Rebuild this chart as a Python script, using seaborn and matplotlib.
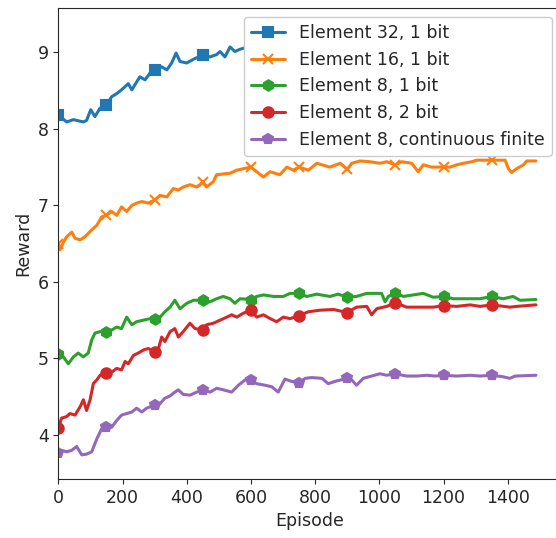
"""
Reward curves for different element / bit configurations.
"""

import matplotlib
matplotlib.use("Agg")
import matplotlib.pyplot as plt
import seaborn as sns

# Element 32, 1 bit
e32_episode = [0, 26, 47, 78, 88, 101, 114, 130, 150, 166, 182, 197, 218, 229,
               254, 270, 286, 300, 322, 338, 353, 367, 379, 400, 426, 450, 473,
               493, 504, 519, 535, 550, 566, 600, 640, 680, 720, 750, 800, 850,
               900, 950, 1000, 1050, 1100, 1150, 1200, 1250, 1300, 1350, 1400,
               1450, 1488]
e32_reward = [8.18, 8.09, 8.12, 8.09, 8.11, 8.25, 8.16, 8.27, 8.31, 8.42, 8.46,
              8.51, 8.59, 8.51, 8.68, 8.64, 8.73, 8.77, 8.81, 8.77, 8.86, 8.99,
              8.88, 8.86, 8.92, 8.96, 8.94, 8.97, 9.01, 8.94, 9.07, 9.01, 9.04,
              9.08, 9.05, 9.10, 9.12, 9.15, 9.13, 9.18, 9.20, 9.18, 9.22, 9.24,
              9.22, 9.25, 9.27, 9.25, 9.28, 9.30, 9.27, 9.29, 9.28]

# Element 16, 1 bit
e16_episode = [0, 5, 16, 26, 42, 52, 68, 83, 104, 120, 135, 150, 166, 182, 197,
               213, 229, 244, 260, 280, 300, 317, 338, 358, 374, 389, 410, 431,
               450, 462, 483, 493, 535, 556, 600, 618, 639, 660, 690, 712, 732,
               750, 779, 805, 846, 878, 900, 914, 940, 971, 1002, 1023, 1050,
               1070, 1101, 1121, 1137, 1163, 1200, 1220, 1241, 1262, 1288, 1303,
               1350, 1392, 1402, 1412, 1428, 1449, 1459, 1488]
e16_reward = [6.50, 6.42, 6.52, 6.59, 6.65, 6.57, 6.55, 6.59, 6.68, 6.74, 6.85,
              6.87, 6.92, 6.87, 6.98, 6.92, 7.00, 7.03, 7.05, 7.03, 7.07, 7.13,
              7.11, 7.22, 7.20, 7.24, 7.27, 7.24, 7.30, 7.24, 7.31, 7.40, 7.42,
              7.46, 7.50, 7.44, 7.37, 7.44, 7.40, 7.50, 7.46, 7.50, 7.46, 7.55,
              7.50, 7.55, 7.47, 7.55, 7.58, 7.57, 7.55, 7.57, 7.53, 7.57, 7.55,
              7.44, 7.53, 7.50, 7.50, 7.50, 7.53, 7.55, 7.57, 7.59, 7.59, 7.59,
              7.48, 7.43, 7.48, 7.53, 7.58, 7.58]

# Element 8, 1 bit
e8b1_episode = [0, 16, 31, 47, 62, 78, 93, 104, 114, 130, 150, 166, 182, 197,
                213, 229, 244, 265, 286, 300, 317, 332, 348, 363, 379, 400, 421,
                450, 473, 493, 514, 535, 550, 566, 600, 618, 639, 670, 701, 722,
                750, 774, 805, 846, 872, 900, 929, 961, 992, 1007, 1018, 1028,
                1050, 1075, 1106, 1137, 1168, 1200, 1231, 1272, 1314, 1350,
                1386, 1417, 1438, 1488]
e8b1_reward = [5.06, 5.02, 4.93, 5.02, 5.07, 5.02, 5.07, 5.24, 5.33, 5.35, 5.35,
               5.37, 5.41, 5.39, 5.54, 5.44, 5.48, 5.50, 5.52, 5.52, 5.54, 5.61,
               5.67, 5.76, 5.65, 5.72, 5.76, 5.76, 5.74, 5.78, 5.81, 5.78, 5.72,
               5.78, 5.77, 5.81, 5.83, 5.81, 5.81, 5.85, 5.85, 5.81, 5.84, 5.81,
               5.84, 5.80, 5.81, 5.85, 5.85, 5.85, 5.74, 5.81, 5.86, 5.81, 5.83,
               5.85, 5.80, 5.81, 5.78, 5.78, 5.78, 5.81, 5.78, 5.81, 5.76, 5.77]

# Element 8, 2 bit
e8b2_episode = [0, 10, 26, 36, 52, 68, 78, 88, 99, 109, 120, 130, 150, 166, 182,
                197, 208, 218, 234, 249, 265, 280, 300, 312, 322, 332, 348, 363,
                374, 389, 410, 426, 450, 462, 483, 504, 525, 540, 556, 576, 600,
                618, 639, 660, 680, 701, 722, 750, 779, 815, 857, 900, 929, 961,
                976, 992, 1023, 1050, 1085, 1127, 1168, 1200, 1241, 1283, 1314,
                1350, 1407, 1428, 1488]
e8b2_reward = [4.09, 4.22, 4.24, 4.28, 4.26, 4.37, 4.46, 4.32, 4.46, 4.67, 4.72,
               4.78, 4.81, 4.82, 4.87, 4.85, 4.96, 4.93, 5.04, 5.07, 5.11, 5.13,
               5.09, 5.13, 5.28, 5.22, 5.35, 5.39, 5.28, 5.35, 5.46, 5.39, 5.37,
               5.44, 5.46, 5.50, 5.54, 5.57, 5.54, 5.59, 5.63, 5.54, 5.57, 5.52,
               5.48, 5.54, 5.52, 5.56, 5.61, 5.63, 5.64, 5.60, 5.67, 5.68, 5.57,
               5.65, 5.68, 5.73, 5.67, 5.67, 5.67, 5.69, 5.68, 5.70, 5.68, 5.70,
               5.67, 5.68, 5.70]

# Element 8, continuous finite
e8c_episode = [0, 10, 26, 42, 57, 73, 88, 104, 120, 135, 150, 166, 182, 197,
               213, 229, 244, 260, 275, 300, 317, 332, 348, 363, 374, 389, 410,
               431, 450, 473, 493, 514, 540, 561, 582, 600, 618, 644, 665, 685,
               706, 727, 750, 769, 789, 821, 841, 862, 900, 914, 929, 950, 976,
               1002, 1023, 1050, 1085, 1117, 1148, 1174, 1200, 1241, 1283, 1314,
               1350, 1386, 1407, 1423, 1488]
e8c_reward = [3.76, 3.80, 3.78, 3.80, 3.85, 3.74, 3.75, 3.78, 3.95, 4.08, 4.10,
              4.10, 4.19, 4.26, 4.28, 4.30, 4.35, 4.30, 4.35, 4.39, 4.41, 4.48,
              4.51, 4.56, 4.59, 4.53, 4.52, 4.56, 4.59, 4.56, 4.61, 4.59, 4.56,
              4.65, 4.72, 4.72, 4.67, 4.65, 4.63, 4.56, 4.73, 4.70, 4.68, 4.74,
              4.75, 4.74, 4.67, 4.70, 4.74, 4.72, 4.65, 4.74, 4.77, 4.80, 4.78,
              4.80, 4.77, 4.77, 4.78, 4.77, 4.78, 4.77, 4.78, 4.77, 4.78, 4.76,
              4.74, 4.77, 4.78]

labels = ["Element 32, 1 bit", "Element 16, 1 bit", "Element 8, 1 bit",
          "Element 8, 2 bit", "Element 8, continuous finite"]
markers = ["s", "x", "h", "o", "p"]
MARK_STEP = 150


def main() -> None:
    sns.set_style("ticks")
    plt.rcParams["font.family"] = ["DejaVu Sans"]
    plt.rcParams["font.size"] = 12.5

    series = [(e32_episode, e32_reward), (e16_episode, e16_reward),
              (e8b1_episode, e8b1_reward), (e8b2_episode, e8b2_reward),
              (e8c_episode, e8c_reward)]
    colors = sns.color_palette("tab10")

    fig = plt.figure(figsize=(5.56, 5.38), dpi=100)
    ax = fig.add_axes([0.1049, 0.1097, 0.9032, 0.8749])

    for i, (ep, rew) in enumerate(series):
        assert len(ep) == len(rew), labels[i]
        mark_idx = [k for k, e in enumerate(ep) if e % MARK_STEP == 0]
        sns.lineplot(x=ep, y=rew, ax=ax, color=colors[i], label=labels[i],
                     estimator=None, linewidth=2.2, marker=markers[i],
                     markevery=mark_idx, markersize=7.5,
                     markeredgecolor=colors[i], markeredgewidth=1.5)

    ax.set_xlim(0, 1564.5)
    ax.set_ylim(3.425, 9.575)
    ax.set_xticks(range(0, 1401, 200))
    ax.set_yticks([4, 5, 6, 7, 8, 9])
    ax.tick_params(labelsize=12.5)
    ax.set_xlabel("Episode", fontsize=12.5)
    ax.set_ylabel("Reward", fontsize=12.5)
    ax.legend(loc="upper right", fontsize=12.5, framealpha=1.0)

    fig.savefig("out.png", dpi=100)


if __name__ == "__main__":
    main()
